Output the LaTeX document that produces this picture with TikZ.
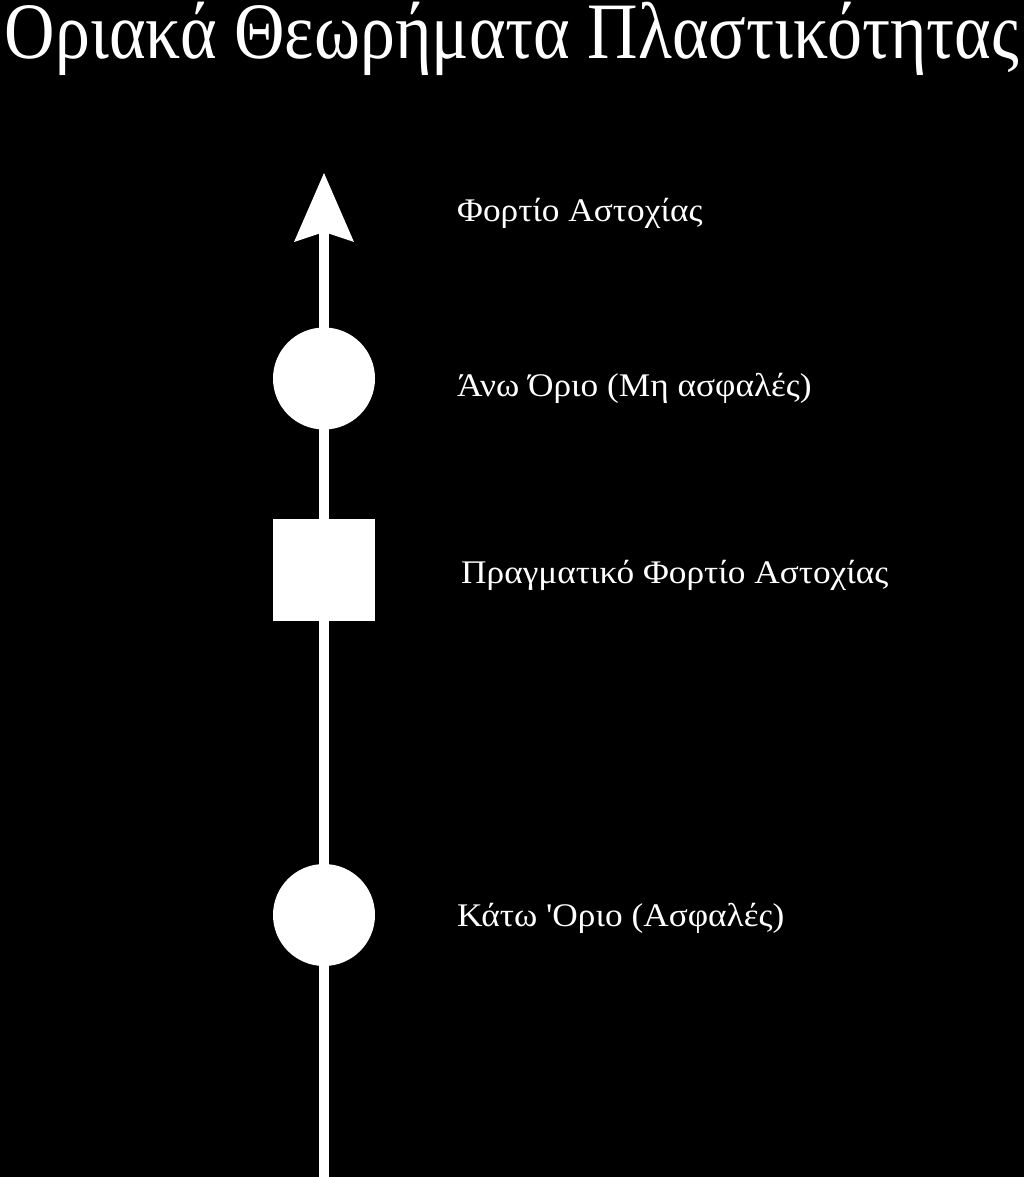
\documentclass[tikz,border=0pt]{standalone}
\usepackage{fontspec}
\setmainfont{Liberation Serif}
\usetikzlibrary{arrows.meta}
\newcommand{\lbltext}[1]{\scalebox{1.07}[1.0]{#1}}
\begin{document}
\begin{tikzpicture}[x=1pt,y=-1pt,
  dot/.style={circle,fill=white,draw=none,minimum size=102pt,inner sep=0pt},
  boxmark/.style={rectangle,fill=white,draw=none,minimum size=102pt,inner sep=0pt},
  lbl/.style={anchor=base west,text=white,inner sep=0pt,font=\fontsize{33}{33}\selectfont},
  ttl/.style={anchor=base,text=white,inner sep=0pt,font=\fontsize{80}{80}\selectfont}]
\fill[black] (0,0) rectangle (1024,1177);
\useasboundingbox (0,0) rectangle (1024,1177);
\node[ttl] (title) at (512,59) {\resizebox{1014pt}{\height}{Οριακά Θεωρήματα Πλαστικότητας}};
\coordinate (bottom) at (324,1177);
\coordinate (top) at (324,173);
\draw[white,line width=10pt,-{Stealth[length=69pt,width=60pt,inset=10pt,line width=0pt]}] (bottom) -- (top);
\node[dot] (upper) at (324,378.5) {};
\node[boxmark] (real) at (324,569.5) {};
\node[dot] (lower) at (324,915) {};
\node[lbl] (l1) at (457,222) {\lbltext{Φορτίο Αστοχίας}};
\node[lbl] (l2) at (457,396) {\lbltext{Άνω Όριο (Μη ασφαλές)}};
\node[lbl] (l3) at (461,583) {\lbltext{Πραγματικό Φορτίο Αστοχίας}};
\node[lbl] (l4) at (457,926) {\lbltext{Κάτω \textquotesingle Οριο (Ασφαλές)}};
\end{tikzpicture}
\end{document}
